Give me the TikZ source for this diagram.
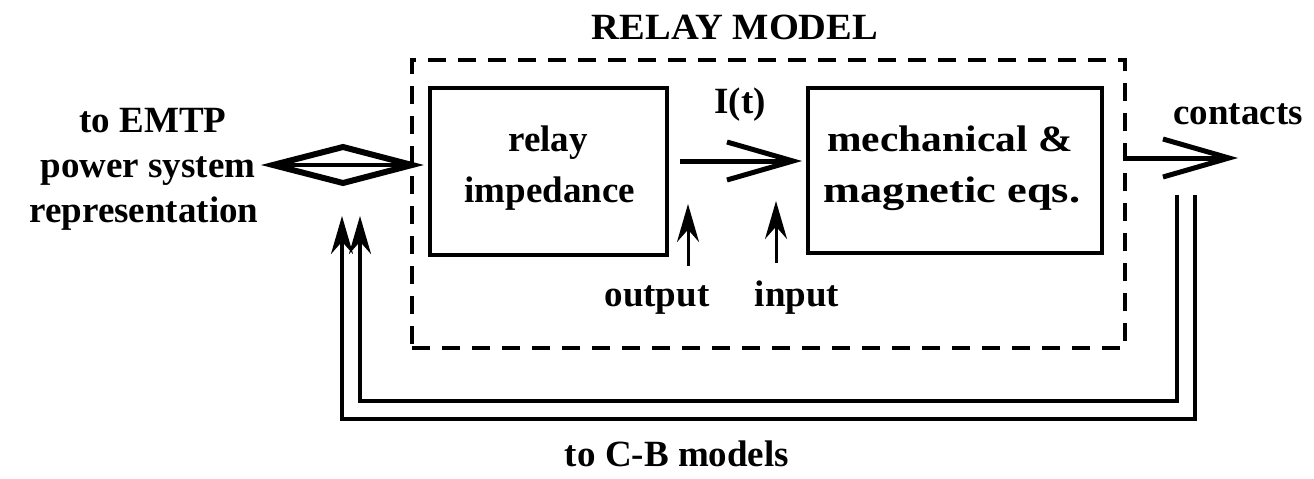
\documentclass[tikz,border=0pt]{standalone}
\usepackage{fontspec}
\usepackage{graphicx}
\setmainfont{Liberation Serif}
\usetikzlibrary{arrows.meta}
\begin{document}
\begin{tikzpicture}[x=1pt,y=-1pt,
  txt/.style={inner sep=0pt, anchor=base, font=\fontsize{37}{44}\bfseries\selectfont},
  blk/.style={draw, line width=3.5pt, inner sep=0pt},
  openhead/.style={line width=5pt, -{Straight Barb[length=66pt,width=38pt,line width=5pt]}},
  smallhead/.style={line width=3pt, -{Stealth[length=38pt,width=22pt]}},
  fbhead/.style={line width=3.5pt, -{Stealth[length=38pt,width=22pt]}}
]
\useasboundingbox (0,0) rectangle (1314,479);
% dashed model box
\node[draw, line width=3.5pt, dash pattern=on 18pt off 12pt, minimum width=713pt, minimum height=288pt, inner sep=0pt] (model) at (768.5,204) {};
\node[txt] (title) at (735,39) {\scalebox{1.04}[1]{RELAY MODEL}};
% blocks
\node[blk, minimum width=237pt, minimum height=167pt] (imp) at (548.5,171.5) {};
\node[txt] (impt1) at (548,151) {relay};
\node[txt] (impt2) at (550,202) {impedance};
\node[blk, minimum width=294pt, minimum height=165pt] (mech) at (955,170.5) {};
\node[txt] (mecht1) at (950,151) {\scalebox{1.12}[1]{mechanical \&}};
\node[txt] (mecht2) at (952,202) {\scalebox{1.2}[1]{magnetic eqs.}};
% I(t) arrow
\coordinate (ia) at (680,161);
\coordinate (ib) at (802,161);
\draw[openhead] (ia) -- (ib);
\node[txt] (it) at (740,113) {I(t)};
% output / input
\coordinate (oa) at (688,266);
\coordinate (ob) at (688,204);
\draw[smallhead] (oa) -- (ob);
\coordinate (pa) at (776,263);
\coordinate (pb) at (776,201);
\draw[smallhead] (pa) -- (pb);
\node[txt] (out) at (657,306) {output};
\node[txt] (inp) at (797,306) {input};
% left text and double arrow
\node[txt] (emtp1) at (153,132) {to EMTP};
\node[txt] (emtp2) at (148,177) {power system};
\node[txt] (emtp3) at (144,222) {representation};
\coordinate (dl) at (273,165);
\coordinate (dr) at (412,165);
\coordinate (dt) at (343,147);
\coordinate (db) at (343,183);
\draw[line width=6pt, line join=miter, miter limit=20] (dl) -- (dt) -- (dr) -- (db) -- cycle;
\draw[line width=4.5pt] (dl) -- (dr);
% contacts
\coordinate (ca) at (1123,158);
\coordinate (cb) at (1238,158);
\draw[openhead] (ca) -- (cb);
\node[txt] (cont) at (1238,124) {contacts};
% feedback
\coordinate (f1) at (1177,195);
\coordinate (f2) at (1195,195);
\coordinate (g1) at (360,216);
\coordinate (g2) at (342,216);
\draw[fbhead, line join=miter] (f1) |- (380,401) -| (g1);
\draw[fbhead, line join=miter] (f2) |- (380,419) -| (g2);
\node[txt] (cbm) at (677,466) {to C-B models};
\end{tikzpicture}
\end{document}
